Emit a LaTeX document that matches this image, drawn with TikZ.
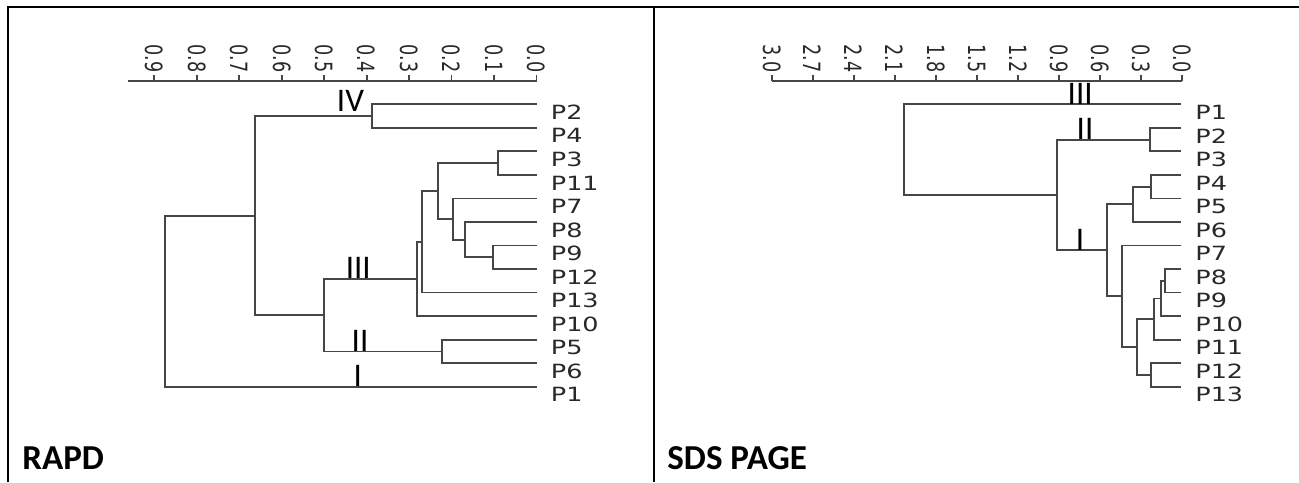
\documentclass[tikz,border=0pt]{standalone}
\usepackage{fontspec}
\setmainfont{Carlito}
\newfontfamily\leaffont[FakeStretch=1.3]{DejaVu Sans}
\newfontfamily\tickfont{DejaVu Sans}
\usetikzlibrary{positioning}
\definecolor{treegray}{RGB}{70,70,70}
\definecolor{labelgray}{RGB}{40,40,40}

\begin{document}
\begin{tikzpicture}[
    x=0.5pt, y=-0.5pt,
    panelframe/.style={line width=1pt, draw=black},
    branch/.style={line width=0.9pt, draw=treegray},
    axisline/.style={line width=0.9pt, draw=treegray},
    ticklbl/.style={font=\tickfont\fontsize{8.8}{10}\selectfont, text=labelgray, inner sep=0pt,
        anchor=east, xscale=1.35, rotate=-90},
    leaf/.style={font=\leaffont\fontsize{9.8}{11}\selectfont, text=labelgray, inner sep=0pt},
    grouplbl/.style={font=\fontsize{16.5}{18}\selectfont, inner sep=0pt, anchor=base},
    paneltitle/.style={font=\bfseries\fontsize{17.5}{19}\selectfont, inner sep=0pt, anchor=base west},
]
\useasboundingbox (0,0) rectangle (1299,482);

% Panel frame
\draw[panelframe] (8.3,482) -- (8.3,6.5) -- (1299,6.5);
\draw[panelframe] (653.5,6.5) -- (653.5,482);

% ---------------- RAPD ----------------
% Axis
\draw[axisline] (128.3,80.7) -- (536.5,80.7);
\foreach \v [count=\k from 0] in {0.0,0.1,0.2,0.3,0.4,0.5,0.6,0.7,0.8,0.9} {
    \draw[axisline] ({536.5-42.47*\k},80.7) -- ++(0,-6);
    \node[ticklbl] (ra\k) at ({536.5-42.47*\k},73) {\v};
}

% Leaves
\foreach \p [count=\i from 0] in {2,4,3,11,7,8,9,12,13,10,5,6,1} {
    \coordinate (a\p) at (536.5,{104.3+23.53*\i});
    \node[leaf, right=7pt of a\p, yshift=-4pt] (a\p lbl) {P\p};
}

% Merges
\coordinate (mIV) at (371.7,116.1);
\coordinate (m1) at (497.7,163.1);
\coordinate (m2) at (493.3,257.2);
\coordinate (m3) at (465,239.6);
\coordinate (m4) at (452.7,219.0);
\coordinate (m5) at (438.3,191.1);
\coordinate (m6) at (421.7,241.8);
\coordinate (mIII) at (416.7,278.9);
\coordinate (mII) at (441.7,351.4);
\coordinate (m7) at (324,315.2);
\coordinate (m8) at (255,215.6);
\coordinate (mroot) at (165,301.1);

\draw[branch] (a2) -| (mIV) |- (a4);
\draw[branch] (a3) -| (m1) |- (a11);
\draw[branch] (a9) -| (m2) |- (a12);
\draw[branch] (a8) -| (m3) |- (m2);
\draw[branch] (a7) -| (m4) |- (m3);
\draw[branch] (m1) -| (m5) |- (m4);
\draw[branch] (m5) -| (m6) |- (a13);
\draw[branch] (m6) -| (mIII) |- (a10);
\draw[branch] (a5) -| (mII) |- (a6);
\draw[branch] (mIII) -| (m7) |- (mII);
\draw[branch] (mIV) -| (m8) |- (m7);
\draw[branch] (m8) -| (mroot) |- (a1);

% Cluster numerals
\node[grouplbl] (rIV) at (350.5,111.7) {IV};
\node[grouplbl] (rIII) at (358.3,278.9) {III};
\node[grouplbl] (rII) at (360,351.4) {II};
\node[grouplbl] (rI) at (357.7,386.7) {I};

\node[paneltitle] (rapd) at (22,469) {RAPD};

% ---------------- SDS PAGE ----------------
% Axis
\draw[axisline] (771.7,81) -- (1182,81);
\foreach \v [count=\k from 0] in {0.0,0.3,0.6,0.9,1.2,1.5,1.8,2.1,2.4,2.7,3.0} {
    \draw[axisline] ({1182-41.03*\k},81) -- ++(0,-6);
    \node[ticklbl] (sa\k) at ({1182-41.03*\k},73) {\v};
}

% Leaves
\foreach \p [count=\i from 0] in {1,...,13} {
    \coordinate (b\p) at (1181,{104.3+23.53*\i});
    \node[leaf, right=7pt of b\p, yshift=-4pt] (b\p lbl) {P\p};
}

% Merges
\coordinate (n23) at (1150,139.6);
\coordinate (n45) at (1150.7,186.7);
\coordinate (n46) at (1132.7,204.3);
\coordinate (n89) at (1165,280.8);
\coordinate (n810) at (1161,298.4);
\coordinate (n811) at (1154,319.0);
\coordinate (n1213) at (1151,374.9);
\coordinate (n813) at (1136.7,347.0);
\coordinate (n713) at (1121.7,296.2);
\coordinate (nI) at (1106.7,250.3);
\coordinate (nII) at (1056.7,195.0);
\coordinate (nroot) at (904.3,149.6);

\draw[branch] (b2) -| (n23) |- (b3);
\draw[branch] (b4) -| (n45) |- (b5);
\draw[branch] (n45) -| (n46) |- (b6);
\draw[branch] (b8) -| (n89) |- (b9);
\draw[branch] (n89) -| (n810) |- (b10);
\draw[branch] (n810) -| (n811) |- (b11);
\draw[branch] (b12) -| (n1213) |- (b13);
\draw[branch] (n811) -| (n813) |- (n1213);
\draw[branch] (b7) -| (n713) |- (n813);
\draw[branch] (n46) -| (nI) |- (n713);
\draw[branch] (n23) -| (nII) |- (nI);
\draw[branch] (b1) -| (nroot) |- (nII);

% Cluster numerals
\node[grouplbl] (sIII) at (1080.2,104.3) {III};
\node[grouplbl] (sII) at (1085,139.6) {II};
\node[grouplbl] (sI) at (1080,250.3) {I};

\node[paneltitle] (sds) at (667,469) {SDS PAGE};

\end{tikzpicture}
\end{document}
